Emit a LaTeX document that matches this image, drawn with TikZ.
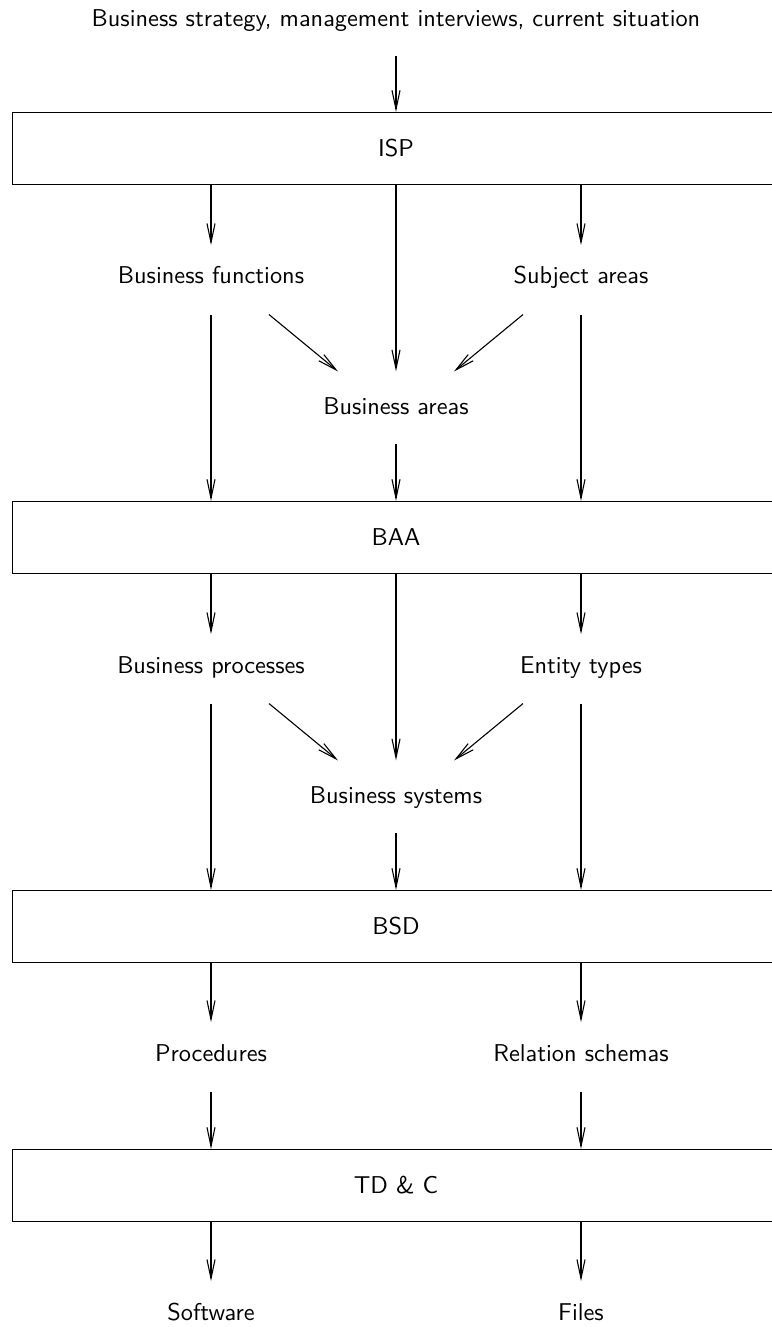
\documentclass[tikz,border=0pt]{standalone}
\usetikzlibrary{arrows.meta}
\begin{document}
\begin{tikzpicture}[
  x=0.411pt, y=-0.411pt,
  font=\sffamily,
  line width=0.45pt,
  flow/.style={-{Straight Barb[length=7.8pt,width=3.3pt]}},
  stage/.style={draw, rectangle, inner sep=0pt, minimum width=315.6pt, minimum height=29.6pt},
  lab/.style={inner sep=0pt, anchor=base, text height=15.74pt, text depth=12.33pt},
  midlab/.style={inner sep=0pt, anchor=base, text height=17.26pt, text depth=11.92pt},
  toplab/.style={inner sep=0pt, anchor=base, text depth=11.5pt}
]
\useasboundingbox (0,0) rectangle (772,1327);
\clip (0,0) rectangle (772,1327);

% input and the four stages
\node[toplab] (input) at (396,27) {Business strategy, management interviews, current situation};
\node[stage] (isp) at (396,148.5) {ISP};
\node[stage] (baa) at (396,537.5) {BAA};
\node[stage] (bsd) at (396,926.5) {BSD};
\node[stage] (tdc) at (396,1185.5) {TD \& C};

% intermediate products
\node[lab] (bf) at (211,284) {Business functions};
\node[lab] (sa) at (581,284) {Subject areas};
\node[midlab] (ba) at (396,414) {Business areas};
\node[lab] (bp) at (211,673) {Business processes};
\node[lab] (et) at (581,673) {Entity types};
\node[midlab] (bs) at (396,803) {Business systems};
\node[lab] (pr) at (211,1061) {Procedures};
\node[lab] (rs) at (581,1061) {Relation schemas};
\node[lab] (sw) at (211,1320) {Software};
\node[lab] (fi) at (581,1320) {Files};

% ISP
\draw[flow] (input.south) -- (isp.north);
\draw[flow] (isp.south -| bf) -- (bf.north);
\draw[flow] (isp.south -| sa) -- (sa.north);
\draw[flow] (isp.south) -- (ba.north);
\draw[flow] ([shift={(58,0)}]bf.south) -- ([shift={(-58,0)}]ba.north);
\draw[flow] ([shift={(-58,0)}]sa.south) -- ([shift={(58,0)}]ba.north);
\draw[flow] (bf.south) -- (bf.south |- baa.north);
\draw[flow] (sa.south) -- (sa.south |- baa.north);
\draw[flow] (ba.south) -- (baa.north);

% BAA
\draw[flow] (baa.south -| bp) -- (bp.north);
\draw[flow] (baa.south -| et) -- (et.north);
\draw[flow] (baa.south) -- (bs.north);
\draw[flow] ([shift={(58,0)}]bp.south) -- ([shift={(-58,0)}]bs.north);
\draw[flow] ([shift={(-58,0)}]et.south) -- ([shift={(58,0)}]bs.north);
\draw[flow] (bp.south) -- (bp.south |- bsd.north);
\draw[flow] (et.south) -- (et.south |- bsd.north);
\draw[flow] (bs.south) -- (bsd.north);

% BSD
\draw[flow] (bsd.south -| pr) -- (pr.north);
\draw[flow] (bsd.south -| rs) -- (rs.north);
\draw[flow] (pr.south) -- (pr.south |- tdc.north);
\draw[flow] (rs.south) -- (rs.south |- tdc.north);

% TD & C
\draw[flow] (tdc.south -| sw) -- (sw.north);
\draw[flow] (tdc.south -| fi) -- (fi.north);
\end{tikzpicture}
\end{document}
